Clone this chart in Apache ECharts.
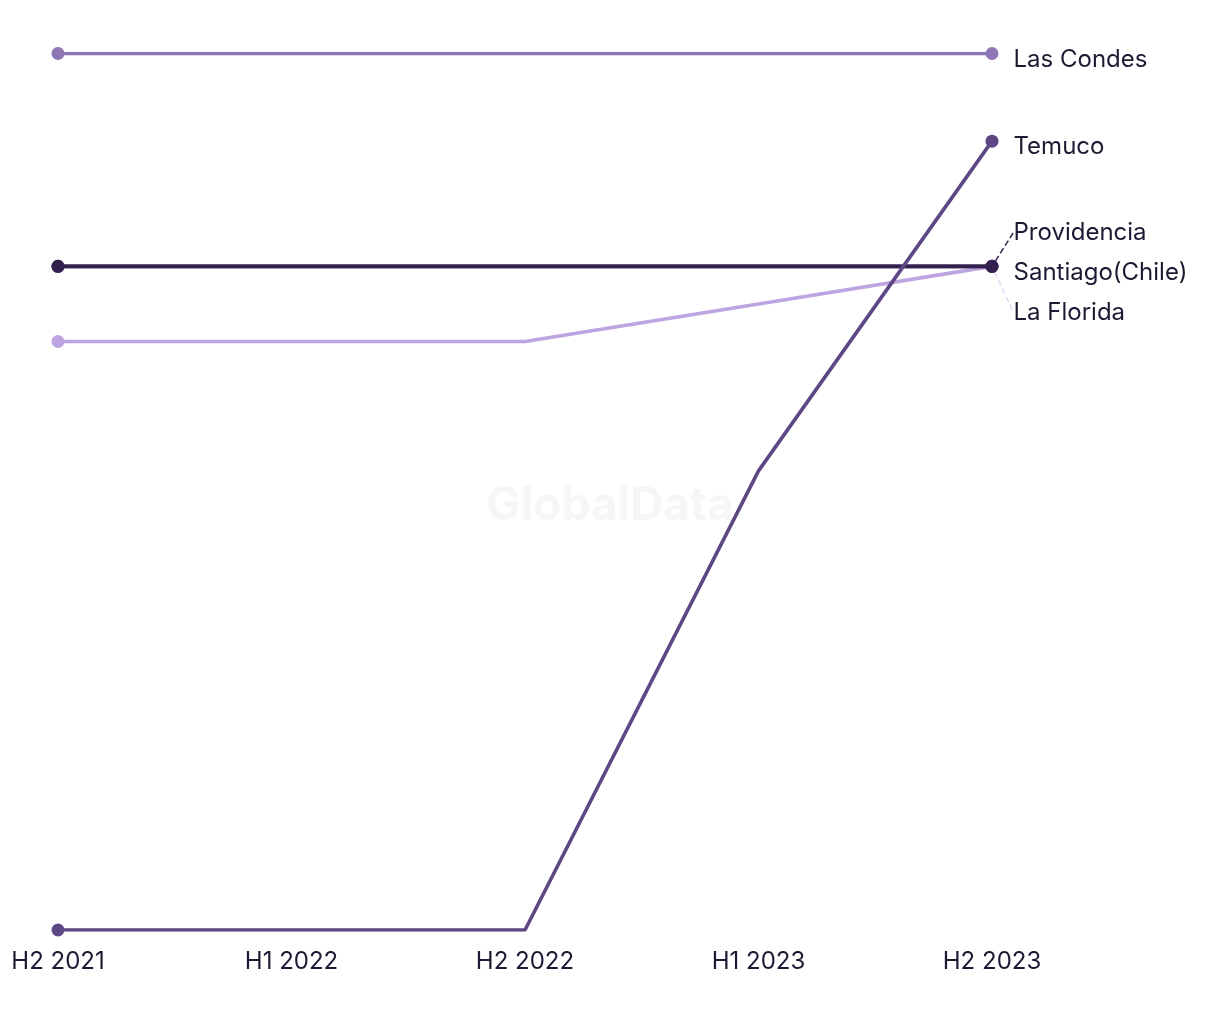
<!DOCTYPE html>
<html><head><meta charset="utf-8">
<script src="https://cdn.jsdelivr.net/npm/echarts@6/dist/echarts.min.js"></script>
<style>html,body{margin:0;padding:0;background:#fff}#c{width:1220px;height:1020px}</style>
</head><body><div id="c"></div>
<script>
const categories = ['H2 2021','H1 2022','H2 2022','H1 2023','H2 2023'];
const lasCondes = [21,21,21,21,21];
const temuco = [0,0,0,11,18.9];
const providencia = [15.9,15.9,15.9,15.9,15.9];
const santiago = [15.9,15.9,15.9,15.9,15.9];
const laFlorida = [14.1,14.1,14.1,15,15.9];

const chart = echarts.init(document.getElementById('c'));
const FONT = 'Inter, "Noto Sans", sans-serif';
function mk(name, data, color, dy, lineColor, z){
  const last = data.length-1;
  const items = data.map((v,i)=> i===last ? {
    value:v,
    label:{show:true, position:'right', distance:15, color:'#1c1a33', fontSize:24, fontFamily:FONT, formatter:name},
    labelLine: lineColor ? {show:true, lineStyle:{color:lineColor, width:1.5, type:'dashed'}} : {show:false}
  } : {value:v});
  return {
    name, type:'line', data:items, z,
    symbol:'circle',
    symbolSize:(v,p)=> (p.dataIndex===0||p.dataIndex===last)?13:0,
    lineStyle:{color, width:3.6},
    itemStyle:{color},
    emphasis:{disabled:true},
    label:{show:false},
    labelLayout:(p)=> p.dataIndex===last ? {dy:dy} : {},
  };
}
chart.setOption({
  animation:false,
  backgroundColor:'#fff',
  graphic:[{type:'text', left:'center', top:483, z:0, style:{text:'GlobalData', fontSize:46, fontWeight:'bold', fontFamily:FONT, fill:'#f6f6f6'}}],
  grid:{left:58, right:228, top:53.5, bottom:90},
  xAxis:{type:'category', data:categories, boundaryGap:false,
    axisLine:{show:false}, axisTick:{show:false}, splitLine:{show:false},
    axisLabel:{color:'#1c1a33', fontSize:24, fontFamily:FONT, margin:20}},
  yAxis:{type:'value', min:0, max:21, show:false, splitLine:{show:false}},
  series:[
    mk('La Florida', laFlorida, '#bea4e1', 46, '#ecd6f7', 2),
    mk('Providencia', providencia, '#3a2656', -34, '#3a2656', 3),
    mk('Santiago(Chile)', santiago, '#33204f', 6, null, 4),
    mk('Temuco', temuco, '#5d4784', 6, null, 5),
    mk('Las Condes', lasCondes, '#8e75b4', 6, null, 6)
  ]
});
</script></body></html>
